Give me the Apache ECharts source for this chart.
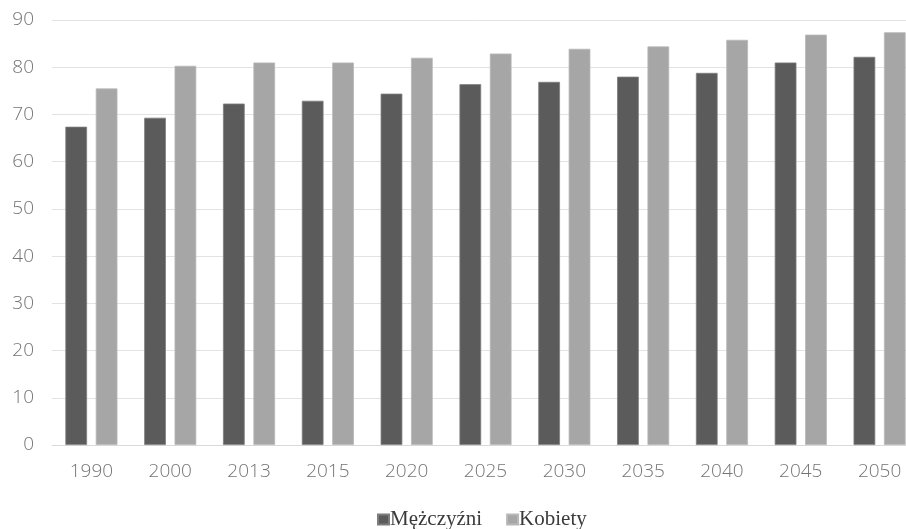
<!DOCTYPE html>
<html>
<head>
<meta charset="utf-8">
<script src="https://cdn.jsdelivr.net/npm/echarts@6/dist/echarts.min.js"></script>
<style>
  html, body { margin: 0; padding: 0; background: #ffffff; }
  #chart { width: 906px; height: 529px; }
</style>
</head>
<body>
<div id="chart"></div>
<script>
// Life expectancy by sex, selected years with projections to 2050
const years = ['1990', '2000', '2013', '2015', '2020', '2025', '2030', '2035', '2040', '2045', '2050'];
const men = [67.4, 69.3, 72.3, 72.9, 74.4, 76.4, 76.9, 78.0, 78.8, 81.0, 82.2];
const women = [75.5, 80.3, 81.0, 81.0, 82.0, 82.9, 83.9, 84.4, 85.8, 86.9, 87.4];
const yTicks = [0, 10, 20, 30, 40, 50, 60, 70, 80, 90];

const axisFont = { color: '#747474', fontFamily: 'Open Sans', fontWeight: 300, fontSize: 19 };

const chart = echarts.init(document.getElementById('chart'), null, { renderer: 'canvas' });
chart.setOption({
  animation: false,
  backgroundColor: '#ffffff',
  // the last category runs past the right edge of the canvas
  grid: { left: 52, top: 20, width: 867, bottom: 84, containLabel: false, outerBoundsMode: 'none' },
  legend: {
    left: 372,
    top: 504,
    icon: 'rect',
    itemWidth: 11,
    itemHeight: 10,
    itemGap: 24,
    textStyle: { color: '#3a3a3a', fontFamily: 'Liberation Serif', fontSize: 21, padding: [0, 0, 0, -4] },
    data: ['Mężczyźni', 'Kobiety']
  },
  xAxis: {
    type: 'category',
    data: years,
    axisLine: { show: true, lineStyle: { color: '#d9d9d9', width: 1 } },
    axisTick: { show: false },
    axisLabel: Object.assign({ margin: 17 }, axisFont)
  },
  yAxis: {
    type: 'value',
    min: yTicks[0],
    max: yTicks[yTicks.length - 1],
    interval: 10,
    axisLine: { show: false },
    axisTick: { show: false },
    splitLine: { lineStyle: { color: '#e3e3e3', width: 1 } },
    axisLabel: Object.assign({ margin: 18 }, axisFont)
  },
  series: [
    {
      name: 'Mężczyźni',
      type: 'bar',
      data: men,
      barWidth: 21.7,
      barGap: '40%',
      itemStyle: { color: '#5b5b5b', borderColor: '#7d7d7d', borderWidth: 0.8 }
    },
    {
      name: 'Kobiety',
      type: 'bar',
      data: women,
      barWidth: 21.7,
      barGap: '40%',
      itemStyle: { color: '#a6a6a6', borderColor: '#b8b8b8', borderWidth: 0.8 }
    }
  ]
});
</script>
</body>
</html>
